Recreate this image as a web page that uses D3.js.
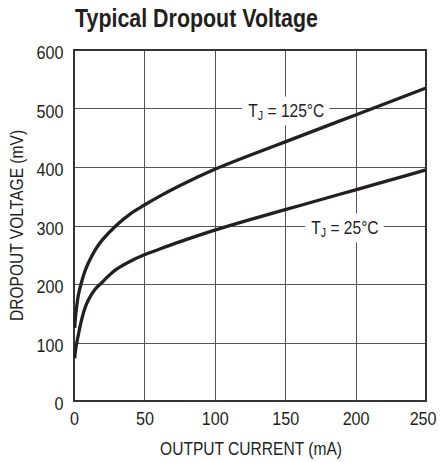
<!DOCTYPE html>
<html>
<head>
<meta charset="utf-8">
<script src="https://cdn.jsdelivr.net/npm/d3@7"></script>
<style>
  html, body { margin: 0; padding: 0; background: #fff; }
  svg text { font-family: "Liberation Sans", Arial, sans-serif; fill: #231f20; }
</style>
</head>
<body>
<svg id="chart" width="440" height="462"></svg>
<script>
// ---- data ----
const currentTicks = [0, 50, 100, 150, 200, 250];
const voltageTicks = [0, 100, 200, 300, 400, 500, 600];

const current125 = [0.5, 1, 2, 3, 5, 7.5, 10, 15, 20, 30, 40, 50, 60, 75, 100, 125, 150, 175, 200, 225, 250];
const dropout125 = [125, 142, 163, 180, 200, 220, 235, 258, 275, 300, 320, 335, 349, 368, 396, 420, 443, 466, 489, 512, 535];

const current25 = [0.5, 1, 2, 3, 5, 7.5, 10, 15, 20, 25, 30, 40, 50, 60, 75, 100, 125, 150, 175, 200, 225, 250];
const dropout25 = [73, 85, 100, 112, 135, 157, 172, 191, 203, 215, 225, 239, 250, 259, 272, 292, 310, 327, 344, 361, 378, 395];

const seriesNames = ["125°C", "25°C"];
const labelCurrent = [123.8, 168.5];
const labelVoltage = [500, 300];

const titleText = "Typical Dropout Voltage";
const xTitle = "OUTPUT CURRENT (mA)";
const yTitle = "DROPOUT VOLTAGE (mV)";

// ---- layout ----
const svg = d3.select("#chart");
const x = d3.scaleLinear().domain([0, 250]).range([74, 426]);
const y = d3.scaleLinear().domain([0, 600]).range([401, 50]);
const ink = "#231f20";
const NARROW = 0.82;

// grid
const grid = svg.append("g");
grid.selectAll("line.v").data(currentTicks.slice(1, -1)).join("line")
  .attr("x1", d => Math.round(x(d)) + 0.5).attr("x2", d => Math.round(x(d)) + 0.5)
  .attr("y1", y(600)).attr("y2", y(0))
  .attr("stroke", "#555").attr("stroke-width", 1);
grid.selectAll("line.h").data(voltageTicks.slice(1, -1)).join("line")
  .attr("y1", d => Math.round(y(d)) + 0.5).attr("y2", d => Math.round(y(d)) + 0.5)
  .attr("x1", x(0)).attr("x2", x(250))
  .attr("stroke", "#555").attr("stroke-width", 1);

// frame
svg.append("rect")
  .attr("x", x(0)).attr("y", y(600))
  .attr("width", x(250) - x(0)).attr("height", y(0) - y(600))
  .attr("fill", "none").attr("stroke", "#333").attr("stroke-width", 2);

// axes (tick labels via d3 axes)
const xAxis = d3.axisBottom(x).tickValues(currentTicks).tickSize(0).tickPadding(0);
const gx = svg.append("g").attr("transform", `translate(0,${y(0)})`).call(xAxis);
gx.select(".domain").remove();
gx.selectAll("text").attr("dy", null).attr("y", 24)
  .attr("x", d => d === 250 ? -4 : 0)
  .attr("transform", "scale(0.85,1)")
  .style("font-size", "19px").attr("fill", ink);

const yAxis = d3.axisLeft(y).tickValues(voltageTicks).tickSize(0).tickPadding(0);
const gy = svg.append("g").attr("transform", `translate(63.5,0)`).call(yAxis);
gy.select(".domain").remove();
gy.selectAll("text").attr("dy", null).attr("y", 8.5).attr("x", 0)
  .attr("transform", "scale(0.85,1)")
  .style("font-size", "19px").attr("fill", ink);

// label backgrounds + labels, then curves
const labels = svg.append("g");
const curves = svg.append("g");

const line = d3.line().x(d => x(d[0])).y(d => y(d[1])).curve(d3.curveCatmullRom.alpha(0.5));
const series = [d3.zip(current125, dropout125), d3.zip(current25, dropout25)];

seriesNames.forEach((name, i) => {
  const g = labels.append("g")
    .attr("transform", `translate(${x(labelCurrent[i])},${y(labelVoltage[i]) + 8.5}) scale(${NARROW},1)`);
  const bg = g.append("rect").attr("fill", "#fff");
  const t = g.append("text").attr("x", 0).attr("y", 0).style("font-size", "19px");
  t.append("tspan").text("T");
  t.append("tspan").attr("dy", 3).style("font-size", "13px").text("J");
  t.append("tspan").attr("dy", -3).text(" = " + name);
  const b = t.node().getBBox();
  bg.attr("x", b.x - 6 / NARROW).attr("y", b.y - 3)
    .attr("width", b.width + 11 / NARROW).attr("height", b.height + 5);
});

curves.selectAll("path").data(series).join("path")
  .attr("d", line)
  .attr("fill", "none").attr("stroke", ink).attr("stroke-width", 3.3)
  .attr("stroke-linecap", "butt").attr("stroke-linejoin", "round");

// titles
svg.append("text").attr("transform", `translate(75,27) scale(0.84,1)`)
  .style("font-size", "25.5px").style("font-weight", "bold").text(titleText);
svg.append("text").attr("transform", `translate(251,455) scale(${NARROW},1)`).attr("text-anchor", "middle")
  .style("font-size", "19px").text(xTitle);
svg.append("text").attr("transform", `translate(22.5,${(y(0) + y(600)) / 2}) rotate(-90) scale(${NARROW},1)`)
  .attr("text-anchor", "middle").style("font-size", "19px").text(yTitle);
</script>
</body>
</html>
